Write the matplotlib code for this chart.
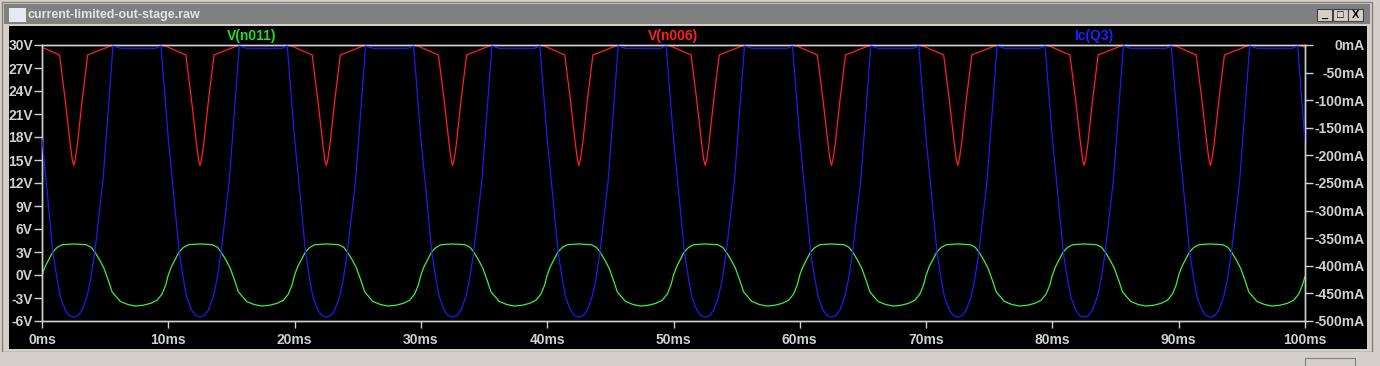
import numpy as np
import matplotlib.pyplot as plt
from matplotlib.patches import Rectangle

# one 10 ms period of each trace
period_ms = 10
n_periods = 10

t_green = [0, 0.25, 0.5, 0.85, 1.2, 1.6, 2.5, 3.5, 3.9, 4.2, 4.55, 4.9, 5.25, 5.55,
           6.2, 6.8, 7.4, 8.0, 8.6, 9.1, 9.5, 9.8]
v_green = [0, 1.1, 1.9, 3.0, 3.6, 3.95, 4.05, 3.95, 3.6, 2.95, 2.0, 0.9, -0.7, -2.2,
           -3.45, -3.85, -4.05, -3.95, -3.7, -3.3, -2.5, -1.3]
green_end = -0.2

t_red = [0, 1.39, 1.84, 2.24, 2.40, 2.51, 2.62, 2.80, 3.18, 3.62, 5.62, 9.55]
v_red = [29.7, 28.7, 22.8, 17.0, 15.0, 14.3, 15.0, 17.0, 22.8, 28.7, 30.0, 30.0]
red_end = 29.7

t_blue = [0, 0.32, 0.87, 1.2, 1.45, 1.84, 2.15, 2.51, 2.87, 3.18, 3.56, 3.85, 4.17,
          4.83, 5.62, 6.2, 9.0, 9.42]
i_blue = [-170, -245, -377, -425, -456, -480, -490, -493, -490, -480, -456, -425, -377,
          -245, -2, -6, -6, -2]
blue_end = -177

left_ticks = [30, 27, 24, 21, 18, 15, 12, 9, 6, 3, 0, -3, -6]
right_ticks = [0, -50, -100, -150, -200, -250, -300, -350, -400, -450, -500]
x_ticks = [0, 10, 20, 30, 40, 50, 60, 70, 80, 90, 100]


def repeat(ts, vs, end):
    t = np.concatenate([np.array(ts) + k * period_ms for k in range(n_periods)] + [[100]])
    v = np.concatenate([np.array(vs)] * n_periods + [[end]])
    return t, v


W, H = 1380, 366
fig = plt.figure(figsize=(W / 100, H / 100), dpi=100, facecolor="#d4d0c8")
plt.rcParams["font.family"] = ["Liberation Sans", "DejaVu Sans"]


def box(x, y, w, h, color, z=0, **kw):
    fig.patches.append(Rectangle((x / W, 1 - (y + h) / H), w / W, h / H,
                                 transform=fig.transFigure, facecolor=color,
                                 zorder=z, **kw))


# window chrome
box(2, 2, 1370, 350, "#d4d0c8", edgecolor="#808080", linewidth=1)
box(4, 4, 1366, 20, "#808080")
box(9, 26, 1358, 323, "black")
box(9, 8, 17, 14, "#e8e8f0", z=1)
fig.text(28 / W, 1 - 15 / H, "current-limited-out-stage.raw", color="#e4e4e4",
         fontsize=9, fontweight="bold", va="center", ha="left")
for bx, sym in [(1317, "_"), (1333, "\u25a1"), (1348, "X")]:
    box(bx, 9, 15, 12, "#d4d0c8", z=1, edgecolor="#404040", linewidth=0.8)
    fig.text((bx + 7.5) / W, 1 - 15 / H, sym, color="black", fontsize=8,
             fontweight="bold", ha="center", va="center", zorder=2)
box(0, 352, 1380, 14, "#d4d0c8")
box(1305, 358, 50, 10, "#d4d0c8", edgecolor="#808080", linewidth=0.8)

ax = fig.add_axes([42 / W, 45 / H, 1263 / W, 276 / H])
ax.set_facecolor("black")
ax2 = ax.twinx()
ax.set_zorder(5)
ax2.set_zorder(6)

tg, vg = repeat(t_green, v_green, green_end)
tr, vr = repeat(t_red, v_red, red_end)
tb, ib = repeat(t_blue, i_blue, blue_end)

ax.plot(tg, vg, color="#3cf03c", linewidth=0.9, zorder=3)
ax.plot(tr, vr, color="#ff2020", linewidth=0.9, zorder=4)
ax2.plot(tb, ib, color="#1c1cf0", linewidth=0.9, zorder=3)

ax.set_xlim(0, 100)
ax.set_ylim(-6, 30)
ax2.set_ylim(-500, 0)

tick_color = "#d0d0d0"
fs = 10
ax.set_xticks(x_ticks)
ax.set_xticklabels([f"{x}ms" for x in x_ticks])
ax.set_yticks(left_ticks)
ax.set_yticklabels([f"{v}V" for v in left_ticks])
ax2.set_yticks(right_ticks)
ax2.set_yticklabels([f"{v}mA" for v in right_ticks])

ax.tick_params(axis="x", colors=tick_color, length=5, width=1, pad=4, labelsize=fs)
ax.tick_params(axis="y", colors=tick_color, length=6, width=1, pad=0.5, labelsize=fs)
ax2.tick_params(axis="y", colors=tick_color, length=6, width=1, pad=37, labelsize=fs)
for lab in ax.get_xticklabels() + ax.get_yticklabels() + ax2.get_yticklabels():
    lab.set_fontweight("bold")
for lab in ax2.get_yticklabels():
    lab.set_horizontalalignment("right")

for a in (ax, ax2):
    for s in a.spines.values():
        s.set_color(tick_color)
        s.set_linewidth(1)

# trace names above the plot
fig.text(252 / W, 1 - 36 / H, "V(n011)", color="#20e020", fontsize=fs,
         fontweight="bold", ha="center", va="center")
fig.text(673 / W, 1 - 36 / H, "V(n006)", color="#ff2020", fontsize=fs,
         fontweight="bold", ha="center", va="center")
fig.text(1094 / W, 1 - 36 / H, "Ic(Q3)", color="#2020ff", fontsize=fs,
         fontweight="bold", ha="center", va="center")

fig.savefig("out.png", dpi=100, facecolor=fig.get_facecolor())
